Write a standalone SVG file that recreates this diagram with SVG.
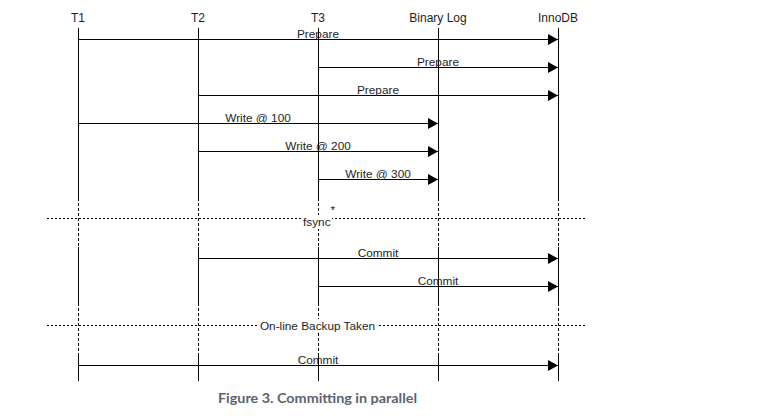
<svg xmlns="http://www.w3.org/2000/svg" width="778" height="417" viewBox="0 0 778 417">
<style>
  .lbl { font-family: "Liberation Sans", Arial, sans-serif; font-size: 11.8px; fill: #1e1e1e; }
  .hdr { font-family: "Liberation Sans", Arial, sans-serif; font-size: 12px; fill: #1e1e1e; text-anchor: middle; }
  .mid { text-anchor: middle; }
  .life { stroke: #000; stroke-width: 1; fill: none; }
  .lifedash { stroke: #000; stroke-width: 1; fill: none; stroke-dasharray: 3 2; }
  .msg { stroke: #000; stroke-width: 1; fill: none; marker-end: url(#ah); }
  .sep { stroke: #000; stroke-width: 1; fill: none; stroke-dasharray: 2 2; }
  .cap { font-family: Lato, "DejaVu Sans", sans-serif; font-size: 13.5px; font-weight: bold; fill: #5b6370; text-anchor: middle; }
</style>
<defs>
  <marker id="ah" markerUnits="userSpaceOnUse" markerWidth="10" markerHeight="11" viewBox="0 0 10 11" refX="10" refY="5.5" orient="auto">
    <path d="M0,0 L10,5.5 L0,11 Z" fill="#000"/>
  </marker>
</defs>
<rect width="778" height="417" fill="#fff"/>

<g id="T1">
  <text class="hdr" x="78" y="22">T1</text>
  <path class="life" d="M78.5,28 V198 M78.5,247 V303 M78.5,353 V381"/>
  <path class="lifedash" d="M78.5,198 V247 M78.5,303 V353"/>
</g>
<g id="T2">
  <text class="hdr" x="198" y="22">T2</text>
  <path class="life" d="M198.5,28 V198 M198.5,247 V303 M198.5,353 V381"/>
  <path class="lifedash" d="M198.5,198 V247 M198.5,303 V353"/>
</g>
<g id="T3">
  <text class="hdr" x="318" y="22">T3</text>
  <path class="life" d="M318.5,28 V198 M318.5,247 V303 M318.5,353 V381"/>
  <path class="lifedash" d="M318.5,198 V247 M318.5,303 V353"/>
</g>
<g id="BinaryLog">
  <text class="hdr" x="438" y="22">Binary Log</text>
  <path class="life" d="M438.5,28 V198 M438.5,247 V303 M438.5,353 V381"/>
  <path class="lifedash" d="M438.5,198 V247 M438.5,303 V353"/>
</g>
<g id="InnoDB">
  <text class="hdr" x="558" y="22">InnoDB</text>
  <path class="life" d="M558.5,28 V198 M558.5,247 V303 M558.5,353 V381"/>
  <path class="lifedash" d="M558.5,198 V247 M558.5,303 V353"/>
</g>

<g id="connectors">
  <line class="msg" x1="78.5" y1="39.5" x2="558" y2="39.5"/>
  <text class="lbl mid" x="318" y="37.5">Prepare</text>
  <line class="msg" x1="318.5" y1="67.5" x2="558" y2="67.5"/>
  <text class="lbl mid" x="438" y="65.5">Prepare</text>
  <line class="msg" x1="198.5" y1="95.5" x2="558" y2="95.5"/>
  <text class="lbl mid" x="378" y="93.5">Prepare</text>
  <line class="msg" x1="78.5" y1="123.5" x2="438" y2="123.5"/>
  <text class="lbl mid" x="258" y="121.5">Write @ 100</text>
  <line class="msg" x1="198.5" y1="151.5" x2="438" y2="151.5"/>
  <text class="lbl mid" x="318" y="149.5">Write @ 200</text>
  <line class="msg" x1="318.5" y1="179.5" x2="438" y2="179.5"/>
  <text class="lbl mid" x="378" y="177.5">Write @ 300</text>
  <line class="msg" x1="198.5" y1="258.5" x2="558" y2="258.5"/>
  <text class="lbl mid" x="378" y="256.5">Commit</text>
  <line class="msg" x1="318.5" y1="286.5" x2="558" y2="286.5"/>
  <text class="lbl mid" x="438" y="284.5">Commit</text>
  <line class="msg" x1="78.5" y1="365.5" x2="558" y2="365.5"/>
  <text class="lbl mid" x="318" y="363.5">Commit</text>
</g>

<g id="fsync">
  <line class="sep" x1="47" y1="218.5" x2="587" y2="218.5"/>
  <rect x="302" y="215" width="30" height="14" fill="#fff"/>
  <text class="lbl" x="303" y="225.5" font-size="12.5">fsync</text>
  <text class="lbl" x="330.5" y="214" font-size="8">*</text>
</g>
<g id="backup">
  <line class="sep" x1="47" y1="325.5" x2="587" y2="325.5"/>
  <rect x="257" y="319" width="121" height="14" fill="#fff"/>
  <text class="lbl mid" x="317.5" y="329.5" font-size="12">On-line Backup Taken</text>
</g>

<text class="cap" x="317.5" y="403" textLength="199" lengthAdjust="spacingAndGlyphs">Figure 3. Committing in parallel</text>
</svg>
